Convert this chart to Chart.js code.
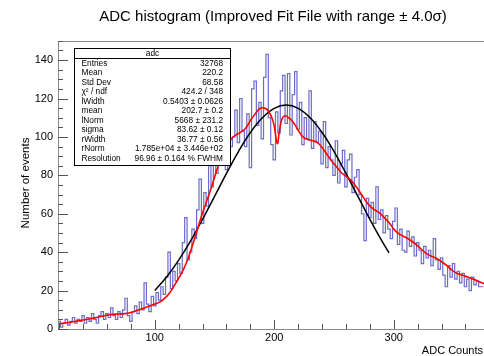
<!DOCTYPE html>
<html><head><meta charset="utf-8">
<script src="https://cdn.jsdelivr.net/npm/chart.js@4.4.1/dist/chart.umd.min.js"></script>
<style>html,body{margin:0;padding:0;background:#fff;}canvas{display:block;}</style>
</head><body>
<canvas id="c" width="484" height="356"></canvas>
<script>
// ---- data ----
const histLow = 19;       // left edge of first bin (ADC counts)
const binWidth = 2;       // ADC counts per bin
const histCounts = [
 2,4,1,3,5,2,4,6,3,5, 4,7,3,6,4,8,5,3,7,9,
 5,8,6,11,7,5,9,6,10,16, 7,4,9,12,8,14,10,24,13,9,
 17,12,19,15,22,18,27,40,21,30, 25,34,29,45,58,36,40,52,47,62,
 78,55,71,64,85,74,97,81,88,104, 92,83,110,95,100,114,97,120,103,95,
 112,84,125,129,106,118,99,131,143,110, 96,88,113,102,124,132,107,133,101,122,
 134,104,118,96,110,99,124,94,108,97, 103,86,108,84,95,88,80,98,76,86,
 93,74,88,91,71,79,83,70,60,46, 68,58,66,55,74,57,62,50,59,52,
 47,56,63,44,52,41,40,51,43,48, 38,45,41,34,43,37,41,33,47,36,
 31,37,28,22,33,27,34,26,30,24, 29,22,26,20,27,23,25,22
];
const redX = [19,25,30,35,40,45,50,55,60,65,70,75,80,85,90,95,100,104,108,112,116,120,124,128,132,136,140,144,148,152,156,160,164,168,172,176,180,184,188,192,195,198,200,202.5,204.5,206.5,209,212,216,220,224,228,232,236,240,244,248,252,256,260,264,268,272,276,280,284,288,292,296,300,304,308,312,316,320,324,328,332,336,340,344,348,352,356,360,364,368,372,375.5];
const redY = [2.6,3.1,3.6,4.1,4.7,5.2,5.8,6.5,7.2,7.6,7.8,8.0,8.6,9.6,10.7,11.8,13.0,14.0,15.8,18.5,22.3,26.5,31.0,37.0,44.5,52.5,60.5,67.5,75,83,91,95.5,99,101,102.5,104.5,108.5,112,114.8,115,113.5,110,105.5,96.5,104,109.5,111,110,107.5,103.5,100,98.6,98,97.2,94.5,91,87.5,84.5,81.5,79.5,77.5,74.5,71,67.2,64,62,60.5,58,55.5,52,49.7,48.3,47,45.3,43.3,41,39,37.8,36.7,35,33.2,31,29.2,28.3,27.4,26.6,25.6,24.5,23.6];
const blackX = [100,110,120,130,140,150,160,170,180,190,200,210,220,230,240,250,260,270,280,290,296];
const blackY = [20.0,27.2,35.9,45.9,57.1,69.0,81.0,92.4,102.3,110.0,114.9,116.6,114.9,110.0,102.3,92.4,81.0,69.0,57.1,45.9,39.7];
const xTickValues = [100,200,300];
const yTickValues = [0,20,40,60,80,100,120,140];
const statsTitle = 'adc';
const statsLabels = ['Entries','Mean','Std Dev','χ² / ndf','lWidth','mean','lNorm','sigma','rWidth','rNorm','Resolution'];
const statsValues = ['32768','220.2','68.58','424.2 / 348','0.5403 ± 0.0626','202.7 ± 0.2','5668 ± 231.2','83.62 ± 0.12','36.77 ± 0.56','1.785e+04 ± 3.446e+02','96.96 ± 0.164 % FWHM'];
const titleText = 'ADC histogram (Improved Fit File with range ± 4.0σ)';
const xTitle = 'ADC Counts';
const yTitle = 'Number of events';

const FONT = '"Liberation Sans", Arial, Helvetica, sans-serif';

const histPoints = histCounts.map((c,i)=>({x: histLow + i*binWidth, y: c}));
histPoints.push({x: histLow + histCounts.length*binWidth, y: histCounts[histCounts.length-1]});
const redPoints = redX.map((x,i)=>({x, y: redY[i]}));
const blackPoints = blackX.map((x,i)=>({x, y: blackY[i]}));

const deco = {
  id: 'deco',
  afterDraw(chart) {
    const ctx = chart.ctx;
    const {left, right, top, bottom} = chart.chartArea;
    const xs = chart.scales.x, ys = chart.scales.y;
    ctx.save();
    // frame
    ctx.lineWidth = 1;
    ctx.strokeStyle = '#8a8a8a';
    ctx.beginPath();
    ctx.moveTo(Math.round(left)+0.5, Math.round(bottom)+0.5);
    ctx.lineTo(Math.round(left)+0.5, Math.round(top)+0.5);
    ctx.lineTo(Math.round(right)+0.5, Math.round(top)+0.5);
    ctx.moveTo(Math.round(left)+0.5, Math.round(bottom)+0.5);
    ctx.lineTo(Math.round(right)+0.5, Math.round(bottom)+0.5);
    ctx.stroke();
    // ticks (inward)
    ctx.strokeStyle = '#555';
    ctx.beginPath();
    for (let v = 0; v <= ys.max; v += 5) {
      const py = Math.round(ys.getPixelForValue(v)) + 0.5;
      const len = (v % 20 === 0) ? 10 : 5;
      ctx.moveTo(Math.round(left), py); ctx.lineTo(Math.round(left) + len, py);
    }
    for (let v = 20; v <= xs.max; v += 20) {
      const px = Math.round(xs.getPixelForValue(v)) + 0.5;
      const len = (v % 100 === 0) ? 9 : 5;
      ctx.moveTo(px, Math.round(bottom)); ctx.lineTo(px, Math.round(bottom) - len);
    }
    ctx.stroke();
    // stats box
    const bx = 74.5, by = 48.5, bw = 156, bh = 117;
    ctx.fillStyle = '#fff';
    ctx.fillRect(bx, by, bw, bh);
    ctx.strokeStyle = '#000';
    ctx.strokeRect(bx, by, bw, bh);
    ctx.beginPath(); ctx.moveTo(bx, 58.5); ctx.lineTo(bx + bw, 58.5); ctx.stroke();
    ctx.fillStyle = '#000';
    ctx.font = '8.3px ' + FONT;
    ctx.textBaseline = 'middle';
    ctx.textAlign = 'center';
    ctx.fillText(statsTitle, bx + bw/2, 53.5);
    statsLabels.forEach((lab, i) => {
      const y = 63.5 + i * 9.5;
      ctx.textAlign = 'left'; ctx.fillText(lab, 81.5, y);
      ctx.textAlign = 'right'; ctx.fillText(statsValues[i], 223, y);
    });
    // titles
    ctx.font = '15px ' + FONT;
    ctx.textAlign = 'center'; ctx.textBaseline = 'alphabetic';
    ctx.fillText(titleText, 273, 21);
    ctx.font = '11px ' + FONT;
    ctx.textAlign = 'right';
    ctx.fillText(xTitle, 483, 353.5);
    ctx.save();
    ctx.translate(25.5, 183);
    ctx.rotate(-Math.PI/2);
    ctx.textAlign = 'center'; ctx.textBaseline = 'middle';
    ctx.font = '11.5px ' + FONT;
    ctx.fillText(yTitle, 0, 0);
    ctx.restore();
    ctx.restore();
  }
};

new Chart(document.getElementById('c'), {
  type: 'line',
  data: {
    datasets: [
      { data: redPoints, borderColor: '#ff0000', borderWidth: 1.6, pointRadius: 0, tension: 0.4, fill: false },
      { data: blackPoints, borderColor: '#000000', borderWidth: 1.5, pointRadius: 0, tension: 0.4, fill: false },
      { data: histPoints, borderColor: 'rgba(70,70,190,0.8)', borderWidth: 1.2, pointRadius: 0, stepped: 'after', fill: false }
    ]
  },
  options: {
    responsive: false,
    animation: false,
    devicePixelRatio: 1,
    layout: { padding: { top: 40.5, left: 0, right: 0, bottom: 0 } },
    plugins: { legend: { display: false }, tooltip: { enabled: false }, title: { display: false } },
    scales: {
      x: {
        type: 'linear', min: 19, max: 375.5,
        border: { display: false },
        grid: { display: false, drawTicks: false },
        afterBuildTicks: (s) => { s.ticks = xTickValues.map(v => ({value: v})); },
        afterFit: (s) => { s.height = 27; },
        ticks: { color: '#000', font: { family: FONT, size: 11 }, padding: 2, maxRotation: 0 }
      },
      y: {
        type: 'linear', min: 0, max: 150.2,
        border: { display: false },
        grid: { display: false, drawTicks: false },
        afterBuildTicks: (s) => { s.ticks = yTickValues.map(v => ({value: v})); },
        afterFit: (s) => { s.width = 58; },
        ticks: { color: '#000', font: { family: FONT, size: 11 }, padding: 5 }
      }
    }
  },
  plugins: [deco]
});
</script>
</body></html>
